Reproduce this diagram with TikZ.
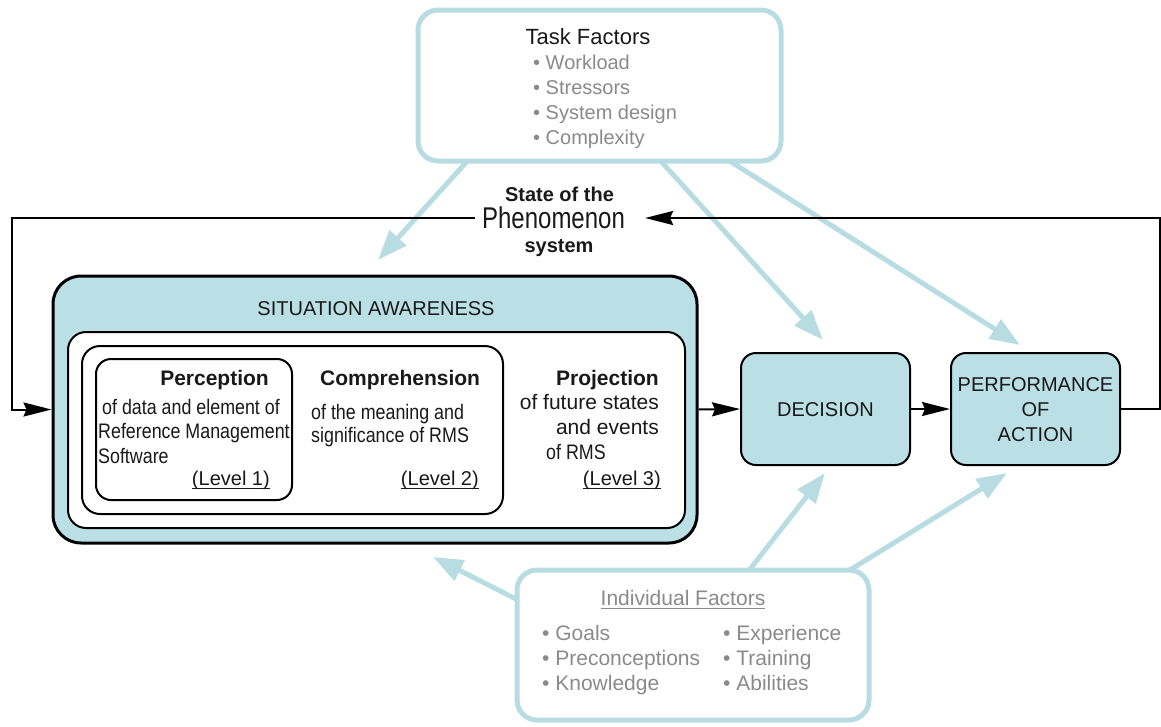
\documentclass[tikz,border=0pt]{standalone}
\usepackage{fontspec}
\setmainfont{Liberation Sans}
\newfontfamily\narrowfont[FakeStretch=0.85]{Liberation Sans}
\newfontfamily\phenfont[FakeStretch=0.8]{Liberation Sans}
\usetikzlibrary{arrows.meta}
\definecolor{lblue}{RGB}{183,221,226}
\definecolor{sablue}{RGB}{186,223,228}
\definecolor{txtgray}{RGB}{138,138,138}
\definecolor{txtdark}{RGB}{25,25,25}
\newcommand\fsz[1]{\fontsize{#1}{#1}\selectfont}
\newcommand\ulx[1]{\setbox0\hbox{#1}\rlap{\rule[-3.5pt]{\wd0}{1.3pt}}\box0}
\begin{document}
\begin{tikzpicture}[x=1pt,y=-1pt,
  box/.style={draw=black, line width=2pt, rounded corners=#1, inner sep=0pt},
  box/.default=15pt,
  fbox/.style={draw=lblue, line width=5pt, rounded corners=20pt, fill=white, inner sep=0pt},
  txt/.style={inner sep=0pt, text=txtdark},
  gtxt/.style={inner sep=0pt, text=txtgray, font=\fsz{20}},
  bl/.style={draw=lblue, line width=5pt, -{Triangle[length=30pt,width=22pt]}},
  fb/.style={draw=black, line width=2pt},
  fbarrow/.style={fb, -{Stealth[length=28pt,width=14pt,inset=3pt]}}
  ]
\useasboundingbox (0,0) rectangle (1161,726);

% blue arrow end points
\coordinate (ts1) at (470,158);
\coordinate (te1) at (378,260);
\coordinate (ts2) at (658,158);
\coordinate (te2) at (823,340);
\coordinate (ts3) at (725,158);
\coordinate (te3) at (1020,345);
\coordinate (is1) at (520,601);
\coordinate (ie1) at (433,557);
\coordinate (is2) at (747,573);
\coordinate (ie2) at (825,473);
\coordinate (is3) at (845,573);
\coordinate (ie3) at (1007,473);

\draw[bl] (ts1) -- (te1);
\draw[bl] (ts2) -- (te2);
\draw[bl] (ts3) -- (te3);
\draw[bl] (is1) -- (ie1);
\draw[bl] (is2) -- (ie2);
\draw[bl] (is3) -- (ie3);

% Task factors
\node[fbox, minimum width=363pt, minimum height=151pt] (task) at (599.5,85.5) {};
\node[txt, font=\fsz{22}] (tasktitle) at (588,37) {Task Factors};
\node[gtxt, anchor=mid west] (t1) at (533,67) {\textbullet\ Workload};
\node[gtxt, anchor=mid west] (t2) at (533,92) {\textbullet\ Stressors};
\node[gtxt, anchor=mid west] (t3) at (533,117) {\textbullet\ System design};
\node[gtxt, anchor=mid west] (t4) at (533,142) {\textbullet\ Complexity};

% Individual factors
\node[fbox, minimum width=352pt, minimum height=150pt] (ind) at (693,645) {};
\node[gtxt, font=\fsz{21}] (indtitle) at (683,600) {\ulx{Individual Factors}};
\node[gtxt, font=\fsz{21}, anchor=mid west] (i1) at (542,638) {\textbullet\ Goals};
\node[gtxt, font=\fsz{21}, anchor=mid west] (i2) at (542,663) {\textbullet\ Preconceptions};
\node[gtxt, font=\fsz{21}, anchor=mid west] (i3) at (542,688) {\textbullet\ Knowledge};
\node[gtxt, font=\fsz{21}, anchor=mid west] (i4) at (723,638) {\textbullet\ Experience};
\node[gtxt, font=\fsz{21}, anchor=mid west] (i5) at (723,663) {\textbullet\ Training};
\node[gtxt, font=\fsz{21}, anchor=mid west] (i6) at (723,688) {\textbullet\ Abilities};

% Situation awareness
\node[box=28pt, line width=3pt, fill=sablue, minimum width=644pt, minimum height=267pt] (sa) at (375,409.5) {};
\node[box=18pt, fill=white, minimum width=617pt, minimum height=196pt] (wb) at (376.5,430) {};
\node[box=18pt, minimum width=421pt, minimum height=168pt] (cb) at (292.5,430) {};
\node[box=15pt, minimum width=196pt, minimum height=141pt] (pb) at (194,429.5) {};

\node[txt, font=\fsz{20}] (satitle) at (376,309) {SITUATION AWARENESS};

\node[txt, font=\bfseries\fsz{21}, anchor=mid east] (perc) at (269,383) {Perception};
\node[txt, font=\narrowfont\fsz{21}, anchor=mid west] (p1) at (102,412) {of data and element of};
\node[txt, font=\narrowfont\fsz{21}, anchor=mid west] (p2) at (98,436) {Reference Management};
\node[txt, font=\narrowfont\fsz{21}, anchor=mid west] (p3) at (98,461) {Software};
\node[txt, font=\fsz{20}, anchor=mid east] (l1) at (270,483) {\ulx{(Level 1)}};

\node[txt, font=\bfseries\fsz{21}, anchor=mid west] (comp) at (320,383) {Comprehension};
\node[txt, font=\narrowfont\fsz{21}, anchor=mid west] (c1) at (311,417) {of the meaning and};
\node[txt, font=\narrowfont\fsz{21}, anchor=mid west] (c2) at (311,440) {significance of RMS};
\node[txt, font=\fsz{20}, anchor=mid east] (l2) at (479,483) {\ulx{(Level 2)}};

\node[txt, font=\bfseries\fsz{21}, anchor=mid east] (proj) at (659,383) {Projection};
\node[txt, font=\fsz{21}, anchor=mid east] (r1) at (659,407) {of future states};
\node[txt, font=\fsz{21}, anchor=mid east] (r2) at (659,432) {and events};
\node[txt, font=\narrowfont\fsz{21}, anchor=mid west] (r3) at (546,457) {of RMS};
\node[txt, font=\fsz{20}, anchor=mid east] (l3) at (661,483) {\ulx{(Level 3)}};

% Decision and performance
\node[box=15pt, fill=sablue, minimum width=169pt, minimum height=112pt] (dec) at (825.5,409) {};
\node[txt, font=\fsz{20}] (dectext) at (825.5,410) {DECISION};
\node[box=15pt, fill=sablue, minimum width=169pt, minimum height=112pt] (perf) at (1035.5,409) {};
\node[txt, font=\fsz{20}, align=center] (perftext) at (1035.5,410) {PERFORMANCE\\[5pt]OF\\[5pt]ACTION};

% State of the phenomenon
\node[txt, font=\bfseries\fsz{20}] (st1) at (559.5,194) {State of the};
\node[txt, font=\phenfont\fsz{30}, inner xsep=7pt] (phen) at (553.5,218) {Phenomenon};
\node[txt, font=\bfseries\fsz{20}] (st3) at (559,248) {system};

\coordinate (rc) at (1160,218);
\coordinate (lc) at (12,218);

% connectors
\draw[fbarrow] (sa.east) -- (dec.west);
\draw[fbarrow] (dec.west -| dec.east) -- (perf.west);
\draw[fbarrow] (perf.east) -| (rc) -- ([xshift=13pt]phen.east);
\draw[fbarrow] (phen.west) -| (lc) |- (sa.west);
\end{tikzpicture}
\end{document}
